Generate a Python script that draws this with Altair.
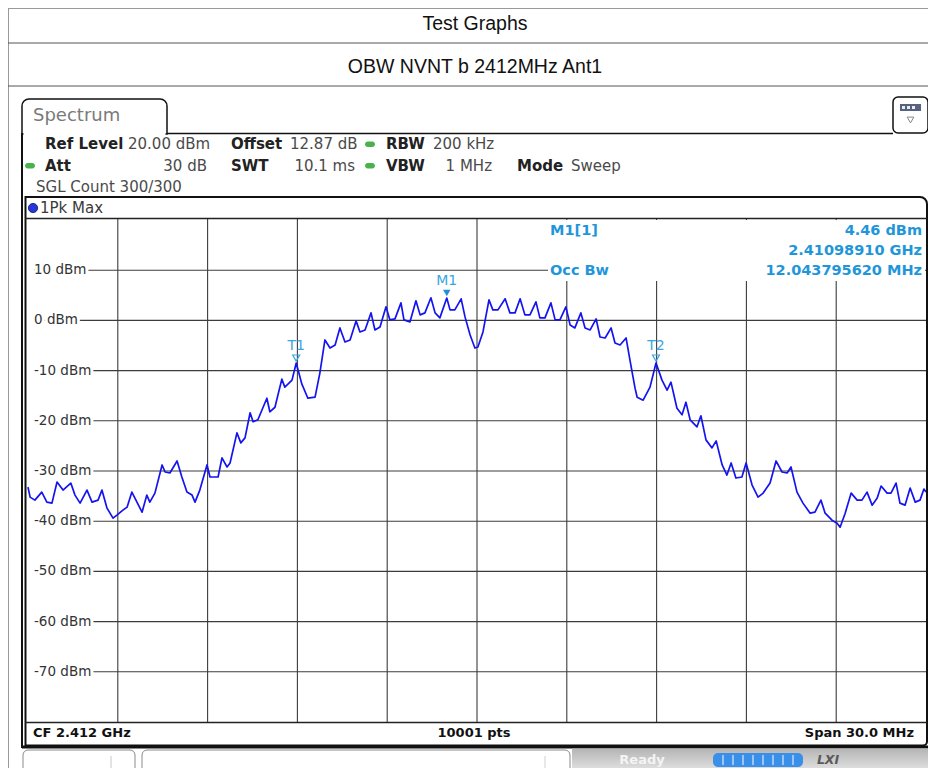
import altair as alt
import pandas as pd

# ---------------- data ----------------
# frequency offset from CF 2.412 GHz in MHz, and trace level in dBm (1Pk Max)
freq_offset_mhz = [-15.0, -14.93, -14.77, -14.54, -14.37, -14.2, -14.03, -13.83, -13.57, -13.43,
                   -13.26, -13.03, -12.86, -12.66, -12.53, -12.36, -12.16, -12.03, -11.83, -11.69,
                   -11.53, -11.36, -11.19, -11.03, -10.93, -10.76, -10.52, -10.42, -10.26, -10.02,
                   -9.86, -9.69, -9.52, -9.42, -9.26, -9.02, -8.92, -8.75, -8.65, -8.52,
                   -8.35, -8.25, -8.02, -7.89, -7.75, -7.58, -7.48, -7.32, -7.02, -6.92,
                   -6.75, -6.52, -6.42, -6.18, -6.04, -5.85, -5.65, -5.41, -5.25, -5.08,
                   -4.91, -4.74, -4.58, -4.41, -4.24, -4.04, -3.91, -3.74, -3.54, -3.41,
                   -3.24, -3.04, -2.91, -2.74, -2.54, -2.44, -2.24, -2.04, -1.9, -1.74,
                   -1.54, -1.4, -1.24, -1.01, -0.9, -0.74, -0.53, -0.4, -0.23, -0.07,
                   0.03, 0.2, 0.4, 0.53, 0.7, 0.94, 1.1, 1.27, 1.44, 1.6,
                   1.77, 1.97, 2.1, 2.27, 2.47, 2.61, 2.77, 2.97, 3.11, 3.27,
                   3.47, 3.61, 3.78, 3.98, 4.11, 4.28, 4.48, 4.61, 4.78, 4.98,
                   5.11, 5.28, 5.35, 5.55, 5.78, 5.98, 6.18, 6.35, 6.48, 6.68,
                   6.85, 6.98, 7.12, 7.35, 7.48, 7.65, 7.85, 7.99, 8.19, 8.35,
                   8.49, 8.65, 8.85, 8.99, 9.19, 9.39, 9.56, 9.79, 9.99, 10.19,
                   10.36, 10.49, 10.69, 10.89, 11.13, 11.29, 11.49, 11.63, 11.86, 12.03,
                   12.13, 12.3, 12.5, 12.7, 12.86, 13.03, 13.2, 13.37, 13.5, 13.7,
                   13.83, 14.0, 14.13, 14.3, 14.47, 14.64, 14.8, 14.93, 15.0]
level_dbm = [-33.2, -35.2, -35.8, -34.2, -36.2, -36.4, -32.2, -33.8, -32.4, -34.8,
             -36.4, -33.8, -36.2, -35.8, -33.8, -37.4, -39.4, -38.8, -37.8, -37.2,
             -34.2, -36.2, -38.2, -34.8, -36.2, -34.4, -28.8, -30.2, -30.4, -28.0,
             -31.2, -34.2, -34.8, -36.2, -33.8, -28.8, -31.2, -31.2, -31.2, -27.4,
             -29.2, -28.4, -22.4, -24.4, -23.4, -18.4, -20.2, -19.8, -15.5, -18.2,
             -17.3, -11.7, -13.3, -11.9, -8.5, -12.7, -15.5, -15.3, -10.5, -3.9,
             -5.5, -4.9, -1.5, -4.3, -3.9, -0.1, -2.3, -1.9, 1.5, -1.9,
             -1.3, 2.7, 0.1, 0.3, 3.5, 0.1, -0.3, 3.9, 1.1, 1.5,
             4.5, 1.5, 0.5, 4.46, 2.1, 2.1, 4.3, 0.7, -2.9, -5.5,
             -5.3, -2.3, 4.1, 2.1, 2.1, 4.3, 1.5, 1.5, 4.3, 1.1,
             1.1, 3.7, 0.5, 0.5, 3.5, 0.1, 0.1, 2.7, -0.9, -1.5,
             1.5, -1.5, -1.9, 0.3, -3.3, -3.5, -1.5, -4.5, -4.9, -3.5,
             -7.9, -13.5, -15.3, -15.9, -13.3, -8.5, -11.9, -13.9, -12.3, -17.5,
             -18.8, -16.3, -19.8, -21.2, -19.0, -23.8, -25.4, -24.0, -28.8, -30.8,
             -28.4, -31.4, -31.2, -28.4, -32.8, -35.2, -34.4, -32.4, -28.0, -30.2,
             -30.4, -29.2, -34.2, -36.4, -38.4, -38.2, -35.8, -38.4, -39.8, -40.4,
             -41.2, -38.4, -34.4, -35.8, -35.8, -34.2, -36.8, -35.4, -33.0, -34.4,
             -34.4, -32.4, -36.4, -36.8, -33.4, -36.2, -35.8, -33.6, -34.2]

grid_levels_dbm = [10, 0, -10, -20, -30, -40, -50, -60, -70]
grid_labels = ["10 dBm", "0 dBm", "-10 dBm", "-20 dBm", "-30 dBm",
               "-40 dBm", "-50 dBm", "-60 dBm", "-70 dBm"]
grid_freq_offsets = [-12, -9, -6, -3, 0, 3, 6, 9, 12]

marker_names = ["M1", "T1", "T2"]
marker_offsets = [-1.01, -6.04, 5.98]
marker_levels = [4.46, -8.5, -8.5]

title_1 = "Test Graphs"
title_2 = "OBW NVNT b 2412MHz Ant1"

# ---------------- helpers ----------------
M = 8  # page margin
one = pd.DataFrame({"k": [0]})
FONT = "DejaVu Sans"


def px(v):
    return v - M


def T(s, x, y, size=15, color="#3a3a3a", weight="normal", align="left", font=FONT, style="normal"):
    return alt.Chart(one).mark_text(text=s, fontSize=size, color=color, fontWeight=weight,
                                    align=align, baseline="middle", font=font, fontStyle=style
                                    ).encode(x=alt.value(px(x)), y=alt.value(px(y)))


def L(x1, y1, x2, y2, color="#000000", w=1.0):
    return alt.Chart(one).mark_rule(color=color, strokeWidth=w).encode(
        x=alt.value(px(x1)), x2=alt.value(px(x2)), y=alt.value(px(y1)), y2=alt.value(px(y2)))


def R(x1, y1, x2, y2, fill="white", stroke=None, w=1.0, **kw):
    props = dict(fill=fill, **kw)
    if stroke is not None:
        props.update(stroke=stroke, strokeWidth=w)
    return alt.Chart(one).mark_rect(**props).encode(
        x=alt.value(px(x1)), x2=alt.value(px(x2)), y=alt.value(px(y1)), y2=alt.value(px(y2)))


X = alt.Scale(domain=[-15, 15], range=[px(28), px(926)])
Y = alt.Scale(domain=[-80, 20], range=[px(722), px(220)])

trace_df = pd.DataFrame({"off": freq_offset_mhz, "lvl": level_dbm})
gh = pd.DataFrame({"lvl": grid_levels_dbm, "label": grid_labels})
gv = pd.DataFrame({"off": grid_freq_offsets})
mk = pd.DataFrame({"name": marker_names, "off": marker_offsets, "lvl": marker_levels})

INFO = "#1f96da"
TRACE = "#1414f0"
GRID = "#3c3c3c"

layers = []

# ---------- outer table ----------
layers += [
    L(8.5, 8, 8.5, 776, "#9a9a9a", 1),
    L(933, 8, 933, 96, "#9a9a9a", 1),
    L(8, 8.5, 933, 8.5, "#9a9a9a", 1),
    L(8, 43, 933, 43, "#555555", 1),
    L(8, 86, 933, 86, "#555555", 1),
    T(title_1, 475, 24, size=19.5, color="#111111", align="center", font="Liberation Sans"),
    T(title_2, 475, 67, size=19.5, color="#111111", align="center", font="Liberation Sans"),
]

# ---------- spectrum panel header ----------
layers += [
    R(22, 99, 167, 134, fill="white", stroke="#111111", w=1.5,
      cornerRadiusTopLeft=7, cornerRadiusTopRight=7),
    L(23.5, 134, 165.5, 134, "white", 3),
    L(167, 133.5, 893, 133.5, "#111111", 1.5),
    R(893, 97, 928, 133, fill="white", stroke="#111111", w=1.5, cornerRadius=5),
    R(900, 104, 921, 111, fill="#56627e"),
    R(902, 106, 905, 109, fill="#e8ecf5"),
    R(907, 106, 910, 109, fill="#e8ecf5"),
    R(912, 106, 915, 109, fill="#e8ecf5"),
    alt.Chart(one).mark_point(shape="triangle-down", size=45, filled=False, color="#555555",
                              strokeWidth=1).encode(x=alt.value(px(910.5)), y=alt.value(px(120))),
    T("Spectrum", 33, 116, size=18, color="#7a7a7a"),
    L(22, 133, 22, 748, "#111111", 2),
]

# settings rows
dot = dict(fill="#49b24c", cornerRadius=3)
layers += [
    T("Ref Level", 45, 144, weight="bold", color="#222222"),
    T("20.00 dBm", 128, 144, color="#4a4a4a"),
    T("Offset", 231, 144, weight="bold", color="#222222"),
    T("12.87 dB", 290, 144, color="#4a4a4a"),
    R(365, 141.5, 375, 147, **dot),
    T("RBW", 386, 144, weight="bold", color="#222222"),
    T("200 kHz", 433, 144, color="#4a4a4a"),
    R(25, 163, 35, 168.5, **dot),
    T("Att", 45, 166, weight="bold", color="#222222"),
    T("30 dB", 207, 166, align="right", color="#4a4a4a"),
    T("SWT", 231, 166, weight="bold", color="#222222"),
    T("10.1 ms", 355, 166, align="right", color="#4a4a4a"),
    R(365, 163, 375, 168.5, **dot),
    T("VBW", 386, 166, weight="bold", color="#222222"),
    T("1 MHz", 492, 166, align="right", color="#4a4a4a"),
    T("Mode", 517, 166, weight="bold", color="#222222"),
    T("Sweep", 571, 166, color="#4a4a4a"),
    T("SGL Count 300/300", 36, 187, color="#4a4a4a"),
]

# trace window header
layers += [
    alt.Chart(one).mark_circle(size=85, color="#2438e0", stroke="#10104a", strokeWidth=0.8, opacity=1
                               ).encode(x=alt.value(px(33)), y=alt.value(px(208))),
    T("1Pk Max", 40, 208),
]

# ---------- grid ----------
layers += [
    alt.Chart(gv).mark_rule(color=GRID, strokeWidth=1.1).encode(
        x=alt.X("off:Q", scale=X, axis=None), y=alt.value(px(219)), y2=alt.value(px(722))),
    alt.Chart(gh).mark_rule(color=GRID, strokeWidth=1.1).encode(
        y=alt.Y("lvl:Q", scale=Y, axis=None), x=alt.value(px(34)), x2=alt.value(px(926))),
    alt.Chart(gh).mark_text(align="left", baseline="middle", font=FONT, fontSize=13.5, color="white",
                            stroke="white", strokeWidth=6, strokeJoin="round").encode(
        y=alt.Y("lvl:Q", scale=Y, axis=None), x=alt.value(px(34)), text="label:N"),
    alt.Chart(gh).mark_text(align="left", baseline="middle", font=FONT, fontSize=13.5, color="#333333"
                            ).encode(y=alt.Y("lvl:Q", scale=Y, axis=None), x=alt.value(px(34)), text="label:N"),
    # white background of the marker info block
    R(548, 220, 925, 281, fill="white"),
]

# ---------- trace ----------
layers += [
    alt.Chart(trace_df).mark_line(color=TRACE, strokeWidth=1.7, strokeJoin="round").encode(
        x=alt.X("off:Q", scale=X, axis=None), y=alt.Y("lvl:Q", scale=Y, axis=None)),
]

# ---------- markers ----------
layers += [
    alt.Chart(mk).transform_filter("datum.name != 'M1'").mark_point(
        shape="triangle-down", size=50, filled=False, color="#3aa6e0", strokeWidth=1.2, yOffset=-5,
        opacity=1).encode(x=alt.X("off:Q", scale=X, axis=None), y=alt.Y("lvl:Q", scale=Y, axis=None)),
    alt.Chart(mk).transform_filter("datum.name == 'M1'").mark_point(
        shape="triangle-down", size=55, filled=True, color="#1f8fd6", yOffset=-5, opacity=1).encode(
        x=alt.X("off:Q", scale=X, axis=None), y=alt.Y("lvl:Q", scale=Y, axis=None)),
    alt.Chart(mk).mark_text(dy=-17, font=FONT, fontSize=14, color="#3aa6e0").encode(
        x=alt.X("off:Q", scale=X, axis=None), y=alt.Y("lvl:Q", scale=Y, axis=None), text="name:N"),
]

# marker info
layers += [
    T("M1[1]", 550, 231, size=14.5, weight="bold", color=INFO),
    T("4.46 dBm", 922, 231, size=14.5, weight="bold", color=INFO, align="right"),
    T("2.41098910 GHz", 922, 251, size=14.5, weight="bold", color=INFO, align="right"),
    T("Occ Bw", 550, 271, size=14.5, weight="bold", color=INFO),
    T("12.043795620 MHz", 922, 271, size=14.5, weight="bold", color=INFO, align="right"),
]

# ---------- trace window frame ----------
layers += [
    R(25.5, 197, 927, 745.5, fill="transparent", stroke="#111111", w=2,
      cornerRadiusTopRight=7, cornerRadiusBottomRight=4),
    L(25, 218.5, 927, 218.5, "#222222", 1.5),
    L(25, 722.5, 927, 722.5, "#222222", 1.5),
    T("CF 2.412 GHz", 33, 733, size=13, weight="bold", color="#111111"),
    T("10001 pts", 474, 733, size=13, weight="bold", color="#111111", align="center"),
    T("Span 30.0 MHz", 914, 733, size=13, weight="bold", color="#111111", align="right"),
    L(22, 747, 936, 747, "#111111", 3),
]

# ---------- status bar ----------
grad = alt.Gradient(gradient="linear",
                    stops=[alt.GradientStop(color="#b4b4b4", offset=0),
                           alt.GradientStop(color="#eeeeee", offset=1)],
                    x1=0, x2=0, y1=0, y2=1)
layers += [
    alt.Chart(one).mark_rect(color=grad).encode(
        x=alt.value(px(572)), x2=alt.value(px(936)), y=alt.value(px(748.5)), y2=alt.value(px(776))),
    R(23, 750, 135, 776, fill="white", stroke="#8a8a8a", w=1, cornerRadius=5),
    L(111, 756, 111, 770, "#c8c8c8", 1),
    R(142, 750, 570, 776, fill="white", stroke="#8a8a8a", w=1, cornerRadius=5),
    L(545, 756, 545, 770, "#d0d0d0", 1),
    T("Ready", 642, 760, size=13, weight="bold", color="#f4f4f4", align="center"),
    R(713, 753, 803, 767, fill="#3a8fe8", cornerRadius=5),
]
for k in range(1, 9):
    layers.append(L(713 + 10 * k, 755, 713 + 10 * k, 765, "#dbe9fb", 1.2))
layers += [
    T("LXI", 828, 760, size=12.5, weight="bold", color="#5a5a5a", align="center", style="italic"),
]

chart = alt.layer(*layers).properties(
    width=920, height=760, padding=0,
    autosize=alt.AutoSizeParams(type="none"), background="white",
).configure_view(stroke="transparent")

chart.save("out.html", embed_options={"renderer": "svg", "actions": False})
